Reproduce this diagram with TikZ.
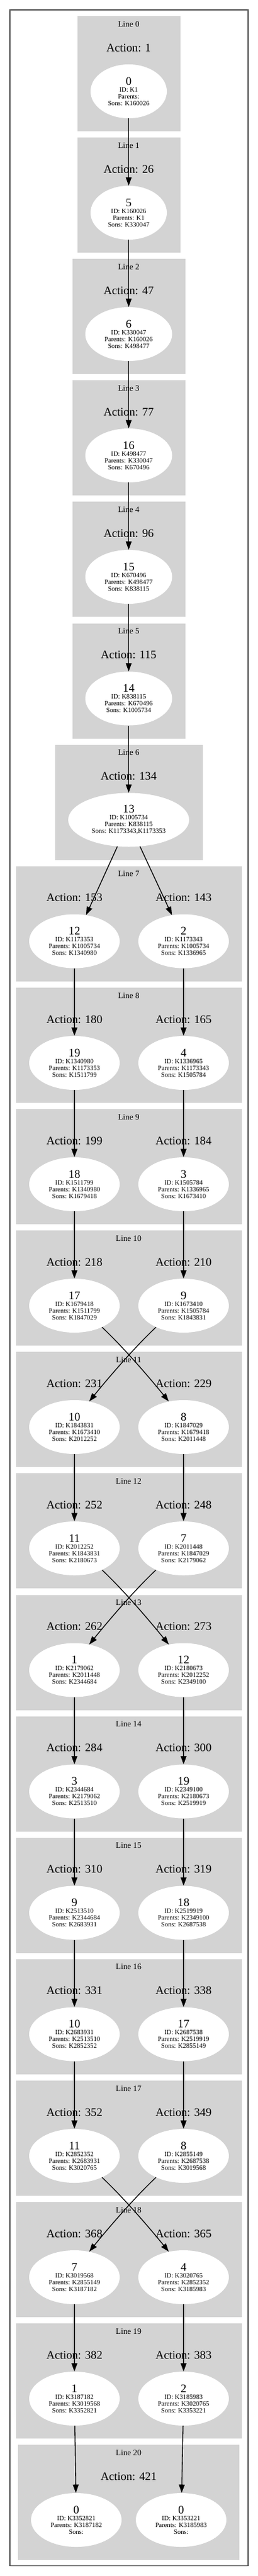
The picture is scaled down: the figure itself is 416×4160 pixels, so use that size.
\documentclass[tikz,border=0pt]{standalone}
\usepackage{fontspec}
\setmainfont{Liberation Serif}
\usepackage{xcolor}
\usepackage{tikz}
\usetikzlibrary{shapes.geometric,arrows.meta}

\definecolor{clustergray}{RGB}{211,211,211}
\newcommand{\statenum}[1]{{\fontsize{14}{14}\selectfont #1}}

\begin{document}
\begin{tikzpicture}[
    x=0.75pt, y=-0.75pt,
    frame/.style={draw=black!70, line width=1.3pt},
    cluster/.style={fill=clustergray},
    linelabel/.style={font=\fontsize{10}{12}\selectfont},
    action/.style={font=\fontsize{14}{16}\selectfont},
    state/.style={ellipse, fill=white, inner sep=0pt, minimum width=109.5pt, minimum height=65.25pt, align=center, font=\fontsize{8}{8.25}\selectfont},
    arrow/.style={->, >={Triangle[length=10pt, width=7pt]}, line width=1pt}
]
    \useasboundingbox (0,0) rectangle (416,4160);

    % Frame and clusters
    \draw[frame] (15.7,15.7) rectangle (400.3,4143.5);
    \fill[cluster] (125,26) rectangle (291,212);
    \fill[cluster] (125,222) rectangle (291,408);
    \fill[cluster] (117,418) rectangle (299,604);
    \fill[cluster] (117,614) rectangle (299,800);
    \fill[cluster] (117,810) rectangle (299,996);
    \fill[cluster] (117,1006.5) rectangle (299,1192.5);
    \fill[cluster] (89,1202.5) rectangle (327,1388.5);
    \fill[cluster] (26,1398.5) rectangle (390,1584.5);
    \fill[cluster] (26,1595) rectangle (390,1781);
    \fill[cluster] (26,1791) rectangle (390,1977);
    \fill[cluster] (26,1987) rectangle (390,2173);
    \fill[cluster] (26,2183) rectangle (390,2369);
    \fill[cluster] (26,2379) rectangle (390,2565);
    \fill[cluster] (26,2575.5) rectangle (390,2761.5);
    \fill[cluster] (26,2771.5) rectangle (390,2957.5);
    \fill[cluster] (26,2967.5) rectangle (390,3153.5);
    \fill[cluster] (26,3163.5) rectangle (390,3349.5);
    \fill[cluster] (26,3360) rectangle (390,3546);
    \fill[cluster] (26,3556) rectangle (390,3742);
    \fill[cluster] (26,3752) rectangle (390,3938);
    \fill[cluster] (29,3948) rectangle (386,4134);

    % Line 0
    \node[linelabel] (line0) at (207.5,39) {Line 0};
    \node[action] (act0) at (207.5,77) {Action: 1};
    \node[state, minimum width=92.25pt] (n0) at (207.5,147.5) {\statenum{0}\\ID: K1\\Parents:\\Sons: K160026};

    % Line 1
    \node[linelabel] (line1) at (207.5,235) {Line 1};
    \node[action] (act1) at (207.5,273) {Action: 26};
    \node[state, minimum width=92.25pt] (n1) at (207.5,343.5) {\statenum{5}\\ID: K160026\\Parents: K1\\Sons: K330047};

    % Line 2
    \node[linelabel] (line2) at (207.5,431) {Line 2};
    \node[action] (act2) at (207.5,469) {Action: 47};
    \node[state, minimum width=105pt] (n2) at (207.5,539.5) {\statenum{6}\\ID: K330047\\Parents: K160026\\Sons: K498477};

    % Line 3
    \node[linelabel] (line3) at (207.5,627) {Line 3};
    \node[action] (act3) at (207.5,665) {Action: 77};
    \node[state, minimum width=105pt] (n3) at (207.5,735.5) {\statenum{16}\\ID: K498477\\Parents: K330047\\Sons: K670496};

    % Line 4
    \node[linelabel] (line4) at (207.5,823) {Line 4};
    \node[action] (act4) at (207.5,861) {Action: 96};
    \node[state, minimum width=105pt] (n4) at (207.5,931.5) {\statenum{15}\\ID: K670496\\Parents: K498477\\Sons: K838115};

    % Line 5
    \node[linelabel] (line5) at (207.5,1019.5) {Line 5};
    \node[action] (act5) at (207.5,1057.5) {Action: 115};
    \node[state, minimum width=105pt] (n5) at (207.5,1128) {\statenum{14}\\ID: K838115\\Parents: K670496\\Sons: K1005734};

    % Line 6
    \node[linelabel] (line6) at (207.5,1215.5) {Line 6};
    \node[action] (act6) at (207.5,1253.5) {Action: 134};
    \node[state, minimum width=146.25pt] (n6) at (207.5,1324) {\statenum{13}\\ID: K1005734\\Parents: K838115\\Sons: K1173343,K1173353};

    % Line 7
    \node[linelabel] (line7) at (207.5,1411.5) {Line 7};
    \node[action] (act7l) at (120,1449.5) {Action: 153};
    \node[action] (act7r) at (296,1449.5) {Action: 143};
    \node[state] (n7l) at (120,1520) {\statenum{12}\\ID: K1173353\\Parents: K1005734\\Sons: K1340980};
    \node[state] (n7r) at (296,1520) {\statenum{2}\\ID: K1173343\\Parents: K1005734\\Sons: K1336965};

    % Line 8
    \node[linelabel] (line8) at (207.5,1608) {Line 8};
    \node[action] (act8l) at (120,1646) {Action: 180};
    \node[action] (act8r) at (296,1646) {Action: 165};
    \node[state] (n8l) at (120,1716.5) {\statenum{19}\\ID: K1340980\\Parents: K1173353\\Sons: K1511799};
    \node[state] (n8r) at (296,1716.5) {\statenum{4}\\ID: K1336965\\Parents: K1173343\\Sons: K1505784};

    % Line 9
    \node[linelabel] (line9) at (207.5,1804) {Line 9};
    \node[action] (act9l) at (120,1842) {Action: 199};
    \node[action] (act9r) at (296,1842) {Action: 184};
    \node[state] (n9l) at (120,1912.5) {\statenum{18}\\ID: K1511799\\Parents: K1340980\\Sons: K1679418};
    \node[state] (n9r) at (296,1912.5) {\statenum{3}\\ID: K1505784\\Parents: K1336965\\Sons: K1673410};

    % Line 10
    \node[linelabel] (line10) at (207.5,2000) {Line 10};
    \node[action] (act10l) at (120,2038) {Action: 218};
    \node[action] (act10r) at (296,2038) {Action: 210};
    \node[state] (n10l) at (120,2108.5) {\statenum{17}\\ID: K1679418\\Parents: K1511799\\Sons: K1847029};
    \node[state] (n10r) at (296,2108.5) {\statenum{9}\\ID: K1673410\\Parents: K1505784\\Sons: K1843831};

    % Line 11
    \node[linelabel] (line11) at (207.5,2196) {Line 11};
    \node[action] (act11l) at (120,2234) {Action: 231};
    \node[action] (act11r) at (296,2234) {Action: 229};
    \node[state] (n11l) at (120,2304.5) {\statenum{10}\\ID: K1843831\\Parents: K1673410\\Sons: K2012252};
    \node[state] (n11r) at (296,2304.5) {\statenum{8}\\ID: K1847029\\Parents: K1679418\\Sons: K2011448};

    % Line 12
    \node[linelabel] (line12) at (207.5,2392) {Line 12};
    \node[action] (act12l) at (120,2430) {Action: 252};
    \node[action] (act12r) at (296,2430) {Action: 248};
    \node[state] (n12l) at (120,2500.5) {\statenum{11}\\ID: K2012252\\Parents: K1843831\\Sons: K2180673};
    \node[state] (n12r) at (296,2500.5) {\statenum{7}\\ID: K2011448\\Parents: K1847029\\Sons: K2179062};

    % Line 13
    \node[linelabel] (line13) at (207.5,2588.5) {Line 13};
    \node[action] (act13l) at (120,2626.5) {Action: 262};
    \node[action] (act13r) at (296,2626.5) {Action: 273};
    \node[state] (n13l) at (120,2697) {\statenum{1}\\ID: K2179062\\Parents: K2011448\\Sons: K2344684};
    \node[state] (n13r) at (296,2697) {\statenum{12}\\ID: K2180673\\Parents: K2012252\\Sons: K2349100};

    % Line 14
    \node[linelabel] (line14) at (207.5,2784.5) {Line 14};
    \node[action] (act14l) at (120,2822.5) {Action: 284};
    \node[action] (act14r) at (296,2822.5) {Action: 300};
    \node[state] (n14l) at (120,2893) {\statenum{3}\\ID: K2344684\\Parents: K2179062\\Sons: K2513510};
    \node[state] (n14r) at (296,2893) {\statenum{19}\\ID: K2349100\\Parents: K2180673\\Sons: K2519919};

    % Line 15
    \node[linelabel] (line15) at (207.5,2980.5) {Line 15};
    \node[action] (act15l) at (120,3018.5) {Action: 310};
    \node[action] (act15r) at (296,3018.5) {Action: 319};
    \node[state] (n15l) at (120,3089) {\statenum{9}\\ID: K2513510\\Parents: K2344684\\Sons: K2683931};
    \node[state] (n15r) at (296,3089) {\statenum{18}\\ID: K2519919\\Parents: K2349100\\Sons: K2687538};

    % Line 16
    \node[linelabel] (line16) at (207.5,3176.5) {Line 16};
    \node[action] (act16l) at (120,3214.5) {Action: 331};
    \node[action] (act16r) at (296,3214.5) {Action: 338};
    \node[state] (n16l) at (120,3285) {\statenum{10}\\ID: K2683931\\Parents: K2513510\\Sons: K2852352};
    \node[state] (n16r) at (296,3285) {\statenum{17}\\ID: K2687538\\Parents: K2519919\\Sons: K2855149};

    % Line 17
    \node[linelabel] (line17) at (207.5,3373) {Line 17};
    \node[action] (act17l) at (120,3411) {Action: 352};
    \node[action] (act17r) at (296,3411) {Action: 349};
    \node[state] (n17l) at (120,3481.5) {\statenum{11}\\ID: K2852352\\Parents: K2683931\\Sons: K3020765};
    \node[state] (n17r) at (296,3481.5) {\statenum{8}\\ID: K2855149\\Parents: K2687538\\Sons: K3019568};

    % Line 18
    \node[linelabel] (line18) at (207.5,3569) {Line 18};
    \node[action] (act18l) at (120,3607) {Action: 368};
    \node[action] (act18r) at (296,3607) {Action: 365};
    \node[state] (n18l) at (120,3677.5) {\statenum{7}\\ID: K3019568\\Parents: K2855149\\Sons: K3187182};
    \node[state] (n18r) at (296,3677.5) {\statenum{4}\\ID: K3020765\\Parents: K2852352\\Sons: K3185983};

    % Line 19
    \node[linelabel] (line19) at (207.5,3765) {Line 19};
    \node[action] (act19l) at (120,3803) {Action: 382};
    \node[action] (act19r) at (296,3803) {Action: 383};
    \node[state] (n19l) at (120,3873.5) {\statenum{1}\\ID: K3187182\\Parents: K3019568\\Sons: K3352821};
    \node[state] (n19r) at (296,3873.5) {\statenum{2}\\ID: K3185983\\Parents: K3020765\\Sons: K3353221};

    % Line 20
    \node[linelabel] (line20) at (207.5,3961) {Line 20};
    \node[action] (act20) at (207.5,3999) {Action: 421};
    \node[state] (n20l) at (123,4069.5) {\statenum{0}\\ID: K3352821\\Parents: K3187182\\Sons:};
    \node[state] (n20r) at (292,4069.5) {\statenum{0}\\ID: K3353221\\Parents: K3185983\\Sons:};

    % Edges
    \draw[arrow] (n0) -- (n1);
    \draw[arrow] (n1) -- (n2);
    \draw[arrow] (n2) -- (n3);
    \draw[arrow] (n3) -- (n4);
    \draw[arrow] (n4) -- (n5);
    \draw[arrow] (n5) -- (n6);
    \draw[arrow] (n6.247) -- (n7l.66);
    \draw[arrow] (n6.293) -- (n7r.114);
    \draw[arrow] (n7l) -- (n8l);
    \draw[arrow] (n7r) -- (n8r);
    \draw[arrow] (n8l) -- (n9l);
    \draw[arrow] (n8r) -- (n9r);
    \draw[arrow] (n9l) -- (n10l);
    \draw[arrow] (n9r) -- (n10r);
    \draw[arrow] (n10l.322) .. controls +(36,34) and +(-30,-37) .. (n11r.120);
    \draw[arrow] (n10r.218) .. controls +(-36,34) and +(30,-37) .. (n11l.60);
    \draw[arrow] (n11l) -- (n12l);
    \draw[arrow] (n11r) -- (n12r);
    \draw[arrow] (n12l.322) .. controls +(36,34) and +(-30,-37) .. (n13r.120);
    \draw[arrow] (n12r.218) .. controls +(-36,34) and +(30,-37) .. (n13l.60);
    \draw[arrow] (n13l) -- (n14l);
    \draw[arrow] (n13r) -- (n14r);
    \draw[arrow] (n14l) -- (n15l);
    \draw[arrow] (n14r) -- (n15r);
    \draw[arrow] (n15l) -- (n16l);
    \draw[arrow] (n15r) -- (n16r);
    \draw[arrow] (n16l) -- (n17l);
    \draw[arrow] (n16r) -- (n17r);
    \draw[arrow] (n17l.322) .. controls +(36,34) and +(-30,-37) .. (n18r.120);
    \draw[arrow] (n17r.218) .. controls +(-36,34) and +(30,-37) .. (n18l.60);
    \draw[arrow] (n18l) -- (n19l);
    \draw[arrow] (n18r) -- (n19r);
    \draw[arrow] (n19l) -- (n20l);
    \draw[arrow] (n19r) -- (n20r);
\end{tikzpicture}
\end{document}
